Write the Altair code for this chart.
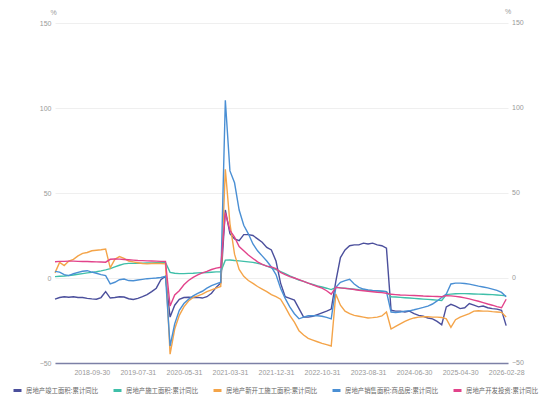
import altair as alt
import pandas as pd

series_names = [
    "房地产竣工面积:累计同比",
    "房地产施工面积:累计同比",
    "房地产新开工施工面积:累计同比",
    "房地产销售面积:商品房:累计同比",
    "房地产开发投资:累计同比",
]
series_colors = ["#4b4f9c", "#3fbfa9", "#f4a449", "#4a8fd4", "#e2438b"]

x_labels = ["2018-09-30", "2019-07-31", "2020-05-31", "2021-03-31", "2021-12-31",
            "2022-10-31", "2023-08-31", "2024-06-30", "2025-04-30", "2026-02-28"]
y_ticks = [-50, 0, 50, 100, 150]

completed = [
    -12.4, -11.5, -11, -11.3, -11, -11.5, -11.5, -12, -12.3, -12.5,
    -11.5, -8, -11.8, -11.5, -11, -11.2, -12.2, -12.6, -12, -11,
    -9.8, -8, -6, -1, 1, -23, -16, -12.5, -11.5, -11.3,
    -11.5, -11.4, -11.8, -11, -9, -5.5, -3, 40, 26, 23,
    22, 25.5, 25.5, 25, 23, 21, 18, 16.5, 10, -3,
    -11, -12, -13, -18, -23, -23, -22.5, -21.5, -20.5, -19.5,
    -18.3, -2, 12, 16.5, 19, 19.5, 19.5, 20.5, 20, 20.5,
    19.5, 19, 17.5, -19, -19.5, -19.5, -20, -19.5, -21, -22,
    -22.5, -23.5, -24, -25.5, -27.5, -17, -15.5, -16.5, -18, -17.5,
    -15, -16, -17, -16.5, -17.5, -18, -18.3, -19, -28,
]
under_construction = [
    0.8, 1, 1.2, 1.5, 1.8, 2.2, 2.6, 3, 3.3, 3.7,
    4.2, 4.8, 5.5, 6.5, 7.5, 8.3, 8.6, 8.6, 8.7, 8.7,
    8.8, 8.9, 9, 9.1, 9.2, 3.3, 2.8, 2.6, 2.6, 2.7,
    2.8, 3, 3.1, 3.2, 3.4, 3.6, 3.7, 10.5, 10.6, 10.3,
    10.1, 9.8, 9.5, 9.2, 8.6, 8, 7, 6, 5, 3.8,
    2.6, 1.2, 0, -1.2, -2, -3, -3.8, -4.6, -5.3, -6,
    -6.8, -5.5, -5.8, -6, -6.3, -6.6, -6.9, -7.1, -7.3, -7.5,
    -7.6, -7.8, -8, -11, -11.2, -11.4, -11.6, -11.8, -12, -12.2,
    -12.4, -12.6, -12.8, -13, -13.2, -9.8, -9.5, -9.3, -9.2, -9.2,
    -9.3, -9.4, -9.5, -9.6, -9.7, -9.8, -10, -10.2, -10.5,
]
new_starts = [
    3, 9.2, 7.3, 10, 11, 13, 14.5, 15, 16, 16.3,
    16.6, 17, 6, 11, 12.6, 11.5, 10, 9.5, 9, 8.5,
    8.3, 8.5, 8.5, 8.5, 8.3, -44.8, -30, -22, -17, -13.5,
    -11.4, -10.5, -9.5, -8, -7, -6, -5, 64, 32, 14,
    5, 1, -1.5, -3.2, -5, -6.5, -8, -9.8, -11, -12.5,
    -17, -22, -26, -31, -33.5, -35.5, -36.5, -37.5, -38.5, -39.2,
    -40, -9.4, -16, -19.5, -21, -22, -22.5, -23, -23.5, -23.3,
    -23, -22.3, -20, -30, -28.5, -27, -25.5, -24.3, -23.5, -23,
    -22.8, -22.8, -23, -23, -23.2, -24, -29, -24.5, -23, -22,
    -21, -19.5, -19.3, -19.5, -19.5, -19.8, -20, -20.2, -23,
]
sales = [
    3.9, 3.5, 2, 1.4, 2.5, 3.3, 4, 4.3, 3.5, 2.8,
    2, 1.4, -3.5, -2.5, -1, -0.6, -1.5, -1.6, -1.2, -0.8,
    -0.4, -0.2, 0, 0.3, 1, -40, -27, -19, -15, -12.5,
    -10.5, -9, -7.8, -6, -4.5, -3.5, -2.5, 104.5, 63, 56,
    40, 31, 26, 20, 16, 13, 10, 6.5, 2, -6,
    -12, -17, -21, -24, -23, -22.2, -22.2, -22.2, -22.5, -23.2,
    -24, -5.5, -2.5, -1.5, -0.8, -3.5, -5.5, -6.5, -7, -7.3,
    -7.5, -7.7, -8, -20, -20.3, -20, -19.5, -19.3, -18.7, -18,
    -17.3, -16.5, -15.3, -13.5, -11.5, -9.4, -3.5, -3, -3, -3.2,
    -3.6, -4.2, -4.8, -5.3, -5.8, -6.5, -7.3, -8.5, -11,
]
investment = [
    9.6, 9.8, 9.8, 9.9, 9.9, 9.8, 9.7, 9.7, 9.6, 9.5,
    9.4, 9.3, 11, 11.2, 11.1, 10.9, 10.7, 10.5, 10.3, 10.2,
    10.1, 10, 9.9, 9.8, 9.8, -16.5, -10, -7.5, -4, -1.5,
    0.4, 1.8, 3, 3.9, 5, 5.8, 6.3, 38.5, 28, 24,
    18.5, 16, 13.5, 11.5, 9.5, 8, 7, 6.5, 5.5, 3.3,
    2, 0.8, 0, -1, -2, -3, -4, -5, -6, -7.5,
    -9.5, -5.5, -5.8, -6.1, -6.4, -6.8, -7.2, -7.5, -7.8, -8.1,
    -8.4, -8.6, -9, -9.6, -9.8, -10, -10.1, -10.2, -10.3, -10.4,
    -10.6, -10.7, -10.8, -10.9, -11, -10.4, -10.5, -10.8, -11.2, -11.7,
    -12.3, -13, -13.7, -14.5, -15.3, -16, -16.8, -17.5, -12.5,
]

all_series = [completed, under_construction, new_starts, sales, investment]
rows = []
for name, vals in zip(series_names, all_series):
    for i, v in enumerate(vals):
        rows.append({"idx": i, "series": name, "value": v})
df = pd.DataFrame(rows)

label_array = "[" + ",".join("'" + s + "'" for s in x_labels) + "]"
FONT = "Liberation Sans"
CJK = "Noto Sans CJK SC"
GREY = "#999999"

x_scale = alt.Scale(domain=[0, 98.4], nice=False, zero=False)
x_axis = alt.Axis(
    values=[8 + 10 * k for k in range(len(x_labels))],
    labelExpr=label_array + "[round((datum.value - 8) / 10)]",
    title=None, grid=False, ticks=False, domain=True,
    domainColor="#7c80a6", domainWidth=1.5,
    labelColor=GREY, labelFontSize=7, labelFont=FONT, labelPadding=5,
)
y_scale = alt.Scale(domain=[-50, 150], nice=False, zero=False)
y_axis = alt.Axis(values=y_ticks, domain=False, ticks=False,
                  grid=True, gridColor="#efefef", gridWidth=1,
                  labelColor=GREY, labelFontSize=7, labelFont=FONT, labelPadding=4,
                  title="%", titleAngle=0, titleFontSize=7, titleColor=GREY, titleFont=FONT,
                  titleFontWeight="normal", titleAlign="center", titleBaseline="middle",
                  titleX=-2, titleY=-11)

lines = alt.Chart(df).mark_line(strokeWidth=1.4).encode(
    x=alt.X("idx:Q", scale=x_scale, axis=x_axis),
    y=alt.Y("value:Q", scale=y_scale, axis=y_axis),
    color=alt.Color("series:N",
                    scale=alt.Scale(domain=series_names, range=series_colors),
                    legend=alt.Legend(
                        title=None, orient="none", direction="horizontal",
                        legendX=-43, legendY=362,
                        symbolType="stroke", symbolStrokeWidth=3, symbolSize=64,
                        labelFontSize=6.4, labelColor="#666666", labelFont=CJK,
                        columnPadding=8, labelOffset=3, columns=5, gridAlign="none",
                    )),
    detail="series:N",
    order=alt.Order("idx:Q"),
)

# right-hand axis labels, positioned through the shared y scale
right_df = pd.DataFrame({"v": y_ticks})
right_labels = alt.Chart(right_df).mark_text(
    align="left", baseline="middle", fontSize=7, color=GREY, font=FONT
).encode(
    y=alt.Y("v:Q", scale=y_scale, axis=y_axis),
    x=alt.value(457),
    text=alt.Text("v:Q"),
)
unit_df = pd.DataFrame({"t": ["%"]})
unit_right = alt.Chart(unit_df).mark_text(fontSize=7, color=GREY, font=FONT).encode(
    text="t:N", x=alt.value(453), y=alt.value(-11))

chart = alt.layer(lines, right_labels, unit_right).properties(
    width=453, height=340,
    background="white",
    padding={"left": 55, "top": 23, "right": 34, "bottom": 33},
    autosize=alt.AutoSizeParams(type="none"),
).configure_view(stroke="transparent", strokeWidth=0)

chart.save("out.html", embed_options={"renderer": "svg", "actions": False})
